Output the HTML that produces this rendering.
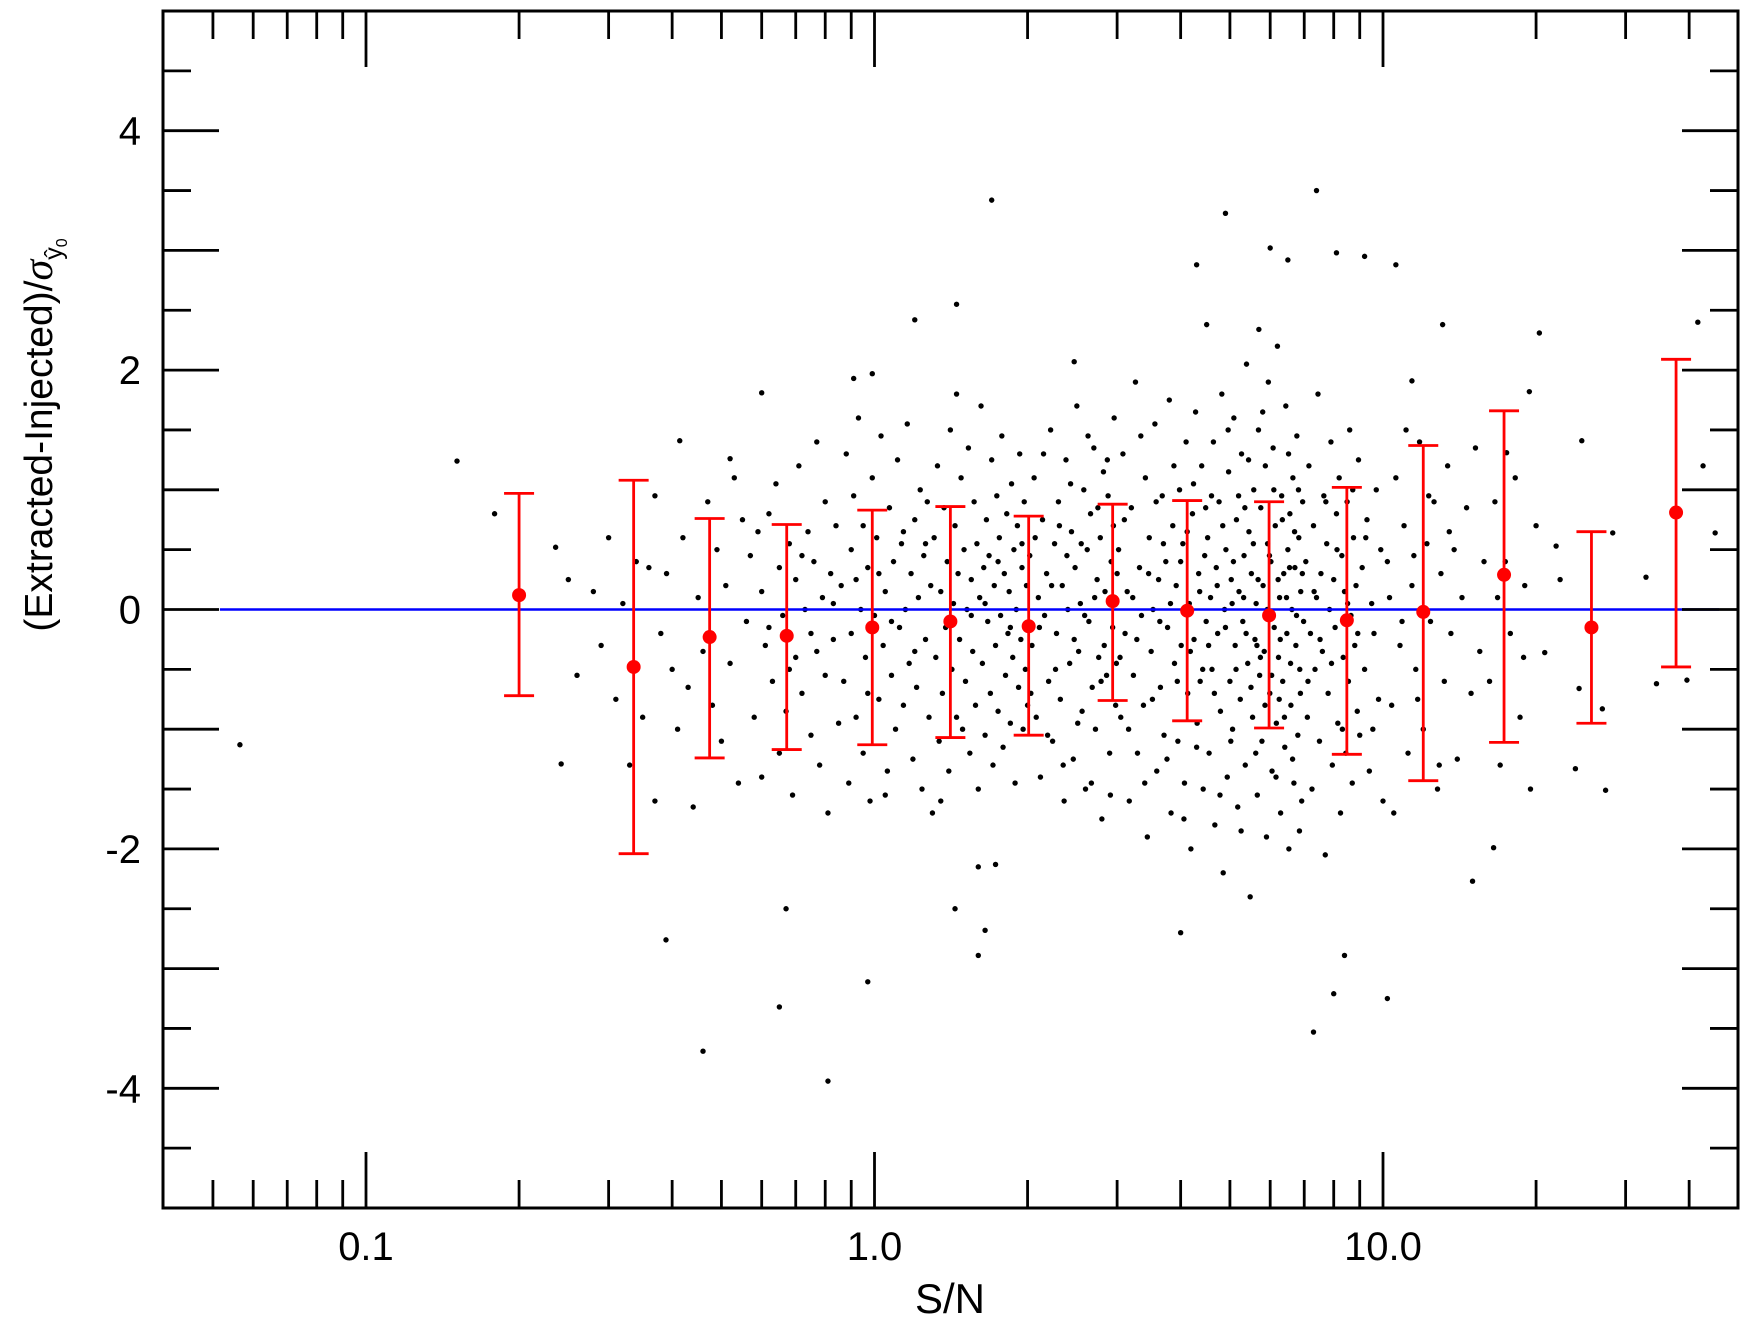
<!DOCTYPE html>
<html><head><meta charset="utf-8"><style>
html,body{margin:0;padding:0;background:#fff}
svg{display:block;font-family:"Liberation Sans",sans-serif}
</style></head><body>
<svg id="chart" width="1750" height="1331" viewBox="0 0 1750 1331" xmlns="http://www.w3.org/2000/svg">
<rect x="0" y="0" width="1750" height="1331" fill="#fff"/>
<g id="dots"></g>
<g id="zero"></g>
<g id="bins"></g>
<g id="axes"></g>
<text x="950" y="1313" font-size="42" text-anchor="middle">S/N</text>
<text transform="translate(52,435) rotate(-90)" font-size="39" text-anchor="middle">(Extracted-Injected)/<tspan font-family="Liberation Serif" font-style="italic" font-size="42">σ</tspan><tspan font-size="25" dy="10">ŷ</tspan><tspan font-size="16" dy="5">0</tspan></text>
</svg>
<script>
const xTickLabels = ["0.1","1.0","10.0"];
const xTickValues = [0.1,1,10];
const yTickValues = [-4,-2,0,2,4];
const binSN   = [0.2,0.336,0.474,0.672,0.99,1.41,2.01,2.94,4.12,5.97,8.49,12.0,17.3,25.7,37.7];
const binMean = [0.12,-0.48,-0.23,-0.22,-0.15,-0.10,-0.14,0.07,-0.01,-0.05,-0.09,-0.02,0.29,-0.15,0.81];
const binHigh = [0.97,1.08,0.76,0.71,0.83,0.86,0.78,0.88,0.91,0.90,1.02,1.37,1.66,0.65,2.09];
const binLow  = [-0.72,-2.04,-1.24,-1.17,-1.13,-1.07,-1.05,-0.76,-0.93,-0.99,-1.21,-1.43,-1.11,-0.95,-0.48];
const zeroLineRange = [0.0516,45.8];
const scatterPoints = [
[0.0565,-1.13],[0.151,1.24],[0.179,0.8],[0.236,0.52],[0.242,-1.29],[0.25,0.25],[0.389,-2.76],[0.414,1.41],[0.46,-3.69],[0.52,1.26],[0.6,1.81],[0.65,-3.32],[0.67,-2.5],[0.81,-3.94],[0.97,-3.11],[0.91,1.93],[0.99,1.97],[1.2,2.42],[1.45,2.55],[1.7,3.42],[1.44,-2.5],[1.6,-2.15],[1.6,-2.89],[1.65,-2.68],[1.73,-2.13],[2.47,2.07],[4.0,-2.7],[4.3,2.88],[4.9,3.31],[4.5,2.38],[5.7,2.34],[6.0,3.02],[6.5,2.92],[7.4,3.5],[7.3,-3.53],[8.1,2.98],[9.2,2.95],[8.4,-2.89],[8.0,-3.21],[10.2,-3.25],[10.6,2.88],[11.4,1.91],[13.1,2.38],[15,-2.27],[16.5,-1.99],[17.5,1.31],[20.3,2.31],[19.4,1.82],[20.8,-0.36],[21.9,0.53],[22.3,0.25],[23.9,-1.33],[24.6,1.41],[27,-0.83],[27.4,-1.51],[28.3,0.64],[32.9,0.27],[34.5,-0.62],[41.6,2.4],[42.6,1.2],[45,0.64],[39.6,-0.59],[24.3,-0.66],
[0.26,-0.55],[0.28,0.15],[0.29,-0.3],[0.3,0.6],[0.31,-0.75],[0.32,0.05],[0.33,-1.3],[0.34,0.4],[0.35,-0.9],[0.36,0.35],[0.37,-1.6],[0.37,0.95],[0.38,-0.2],[0.39,0.3],[0.4,-0.5],[0.41,-1.0],[0.42,0.6],[0.43,-0.65],[0.44,-1.65],[0.45,0.1],[0.46,-0.35],[0.47,0.9],[0.48,-0.8],[0.49,0.5],[0.5,-1.1],[0.51,0.2],[0.52,-0.45],[0.53,1.1],[0.54,-1.45],[0.55,0.75],
[0.56,-0.1],[0.57,0.45],[0.58,-0.9],[0.59,0.65],[0.6,-1.4],[0.6,0.15],[0.61,-0.3],[0.62,0.8],[0.63,-0.6],[0.64,1.05],[0.65,-1.2],[0.65,0.35],[0.66,-0.05],[0.67,-0.85],[0.68,0.55],[0.69,-1.55],[0.7,0.25],[0.7,-0.4],[0.71,1.2],[0.72,-0.7],[0.73,0.0],[0.74,0.65],[0.75,-1.05],[0.75,-0.2],[0.76,0.4],[0.77,1.4],[0.78,-1.3],[0.79,0.1],[0.8,-0.55],[0.8,0.9],[0.81,-1.7],[0.82,0.3],[0.83,-0.25],[0.84,0.7],[0.85,-0.95],[0.62,-0.15],[0.68,-0.5],[0.72,0.45],[0.77,-0.35],[0.83,0.05],
[0.86,0.2],[0.87,-0.6],[0.88,1.3],[0.89,-1.45],[0.9,0.5],[0.9,-0.2],[0.91,0.95],[0.92,-0.9],[0.93,1.6],[0.94,0.0],[0.95,-1.2],[0.95,0.7],[0.96,-0.4],[0.97,0.35],[0.98,-1.6],[0.99,1.1],[1.0,-0.05],[1.01,0.6],[1.02,-0.75],[1.03,1.45],[1.04,-0.3],[1.05,0.15],[1.06,-1.35],[1.07,0.85],[1.08,-0.55],[1.09,0.4],[1.1,-1.0],[1.11,1.25],[1.12,-0.15],[1.13,0.55],[1.14,-0.8],[1.15,0.0],[1.16,1.55],[1.17,-0.45],[1.18,0.3],[1.19,-1.25],[1.2,0.75],[1.21,-0.65],[1.22,0.1],[1.23,1.0],[1.24,-1.5],[1.25,0.45],[1.26,-0.25],[1.27,0.9],[1.28,-0.9],[1.29,0.2],[1.3,-1.7],[0.92,0.25],[0.97,-0.7],[1.02,0.3],[1.08,-0.1],[1.14,0.65],[1.2,-0.35],[1.26,0.55],[1.05,-1.55],
[1.31,0.6],[1.32,-0.4],[1.33,1.2],[1.34,-1.1],[1.35,0.15],[1.36,-0.7],[1.37,0.85],[1.38,-0.15],[1.39,0.4],[1.4,-1.35],[1.41,1.5],[1.42,-0.5],[1.43,0.05],[1.44,0.7],[1.45,-0.9],[1.46,0.3],[1.47,-0.25],[1.48,1.1],[1.49,-1.0],[1.5,0.5],[1.51,-0.6],[1.52,0.0],[1.53,1.35],[1.54,-1.2],[1.55,0.25],[1.56,-0.35],[1.57,0.9],[1.58,-0.8],[1.59,0.55],[1.6,-1.5],[1.61,0.1],[1.62,1.7],[1.63,-0.45],[1.64,0.35],[1.65,-1.05],[1.66,0.75],[1.67,-0.1],[1.68,0.45],[1.69,-0.7],[1.7,1.25],[1.71,-1.3],[1.72,0.2],[1.73,-0.3],[1.74,0.95],[1.75,-0.85],[1.76,0.6],[1.77,-0.05],[1.78,1.45],[1.79,-1.15],[1.8,0.3],[1.81,-0.55],[1.82,0.8],[1.83,-0.2],[1.84,0.15],[1.85,-0.95],[1.86,1.05],[1.87,-0.4],[1.88,0.5],[1.89,-1.45],[1.9,0.0],[1.91,0.7],[1.92,-0.65],[1.93,1.3],[1.94,-0.25],[1.95,0.35],[1.96,-1.0],[1.97,0.9],[1.98,-0.5],[1.99,0.2],[2.0,-0.8],[1.35,-1.6],[1.45,1.8],[1.55,-0.05],[1.65,0.05],[1.75,0.4],[1.85,-0.15],[1.95,0.55],
[2.02,0.45],[2.04,-0.3],[2.06,1.1],[2.08,-0.9],[2.1,0.1],[2.12,-1.4],[2.14,0.75],[2.16,-0.05],[2.18,0.3],[2.2,-0.6],[2.22,1.5],[2.24,-1.1],[2.26,0.55],[2.28,-0.2],[2.3,0.9],[2.32,-0.75],[2.34,0.2],[2.36,-1.6],[2.38,1.25],[2.4,0.0],[2.42,-0.45],[2.44,0.65],[2.46,-1.25],[2.48,0.35],[2.5,1.7],[2.52,-0.35],[2.54,0.05],[2.56,-0.85],[2.58,1.0],[2.6,-1.5],[2.62,0.5],[2.64,-0.1],[2.66,0.8],[2.68,-0.65],[2.7,1.35],[2.72,-1.0],[2.74,0.25],[2.76,-0.4],[2.78,0.6],[2.8,-1.75],[2.82,1.15],[2.84,0.15],[2.86,-0.55],[2.88,0.95],[2.9,-1.2],[2.92,0.4],[2.94,-0.15],[2.96,1.6],[2.98,-0.8],[3.0,0.3],
[2.03,-0.7],[2.07,0.6],[2.11,-0.15],[2.15,1.3],[2.19,-1.05],[2.23,0.2],[2.27,-0.5],[2.31,0.7],[2.35,-1.3],[2.39,0.45],[2.43,1.05],[2.47,-0.25],[2.51,-0.95],[2.55,0.55],[2.59,-0.05],[2.63,1.45],[2.67,-1.45],[2.71,0.1],[2.75,0.85],[2.79,-0.6],[2.83,-0.3],[2.87,1.25],[2.91,-1.55],[2.95,0.7],[2.99,-0.45],
[3.02,0.5],[3.05,-0.9],[3.08,1.3],[3.11,-0.2],[3.14,0.15],[3.17,-1.6],[3.2,0.85],[3.23,-0.55],[3.26,1.9],[3.29,-1.2],[3.32,0.35],[3.35,-0.05],[3.38,-0.8],[3.41,1.1],[3.44,-1.9],[3.47,0.6],[3.5,-0.35],[3.53,0.0],[3.56,1.55],[3.59,-1.35],[3.62,0.25],[3.65,-0.65],[3.68,0.95],[3.71,-1.05],[3.74,0.4],[3.77,-0.15],[3.8,1.75],[3.83,-1.7],[3.86,0.7],[3.89,-0.45],
[3.92,0.2],[3.95,-1.1],[3.98,1.0],[4.01,-0.3],[4.04,0.55],[4.07,-1.45],[4.1,1.4],[4.13,-0.7],[4.16,0.05],[4.19,-2.0],[4.22,0.8],[4.25,-0.25],[4.28,1.65],[4.31,-0.95],[4.34,0.3],[4.37,-0.6],[4.4,1.2],[4.43,-1.5],[4.46,0.45],[4.49,-0.1],
[3.04,-0.4],[3.1,0.75],[3.16,-1.0],[3.22,0.1],[3.28,-0.25],[3.34,1.45],[3.4,-1.45],[3.46,0.3],[3.52,-0.75],[3.58,0.9],[3.64,-0.1],[3.7,0.55],[3.76,-1.25],[3.82,0.05],[3.88,1.2],[3.94,-0.6],[4.0,0.4],[4.06,-1.75],[4.12,0.65],[4.18,-0.35],[4.24,1.05],[4.3,-1.15],[4.36,0.15],[4.42,-0.5],[4.48,0.85],
[4.52,0.6],[4.55,-1.2],[4.58,0.1],[4.61,-0.5],[4.64,1.4],[4.67,-1.8],[4.7,0.35],[4.73,-0.2],[4.76,0.9],[4.79,-0.85],[4.82,1.8],[4.85,-2.2],[4.88,0.0],[4.91,0.5],[4.94,-1.4],[4.97,1.15],[5.0,-0.6],[5.03,0.25],[5.06,-1.0],[5.09,1.6],[5.12,-0.3],[5.15,0.75],[5.18,-1.65],[5.21,0.15],[5.24,-0.75],[5.27,1.3],[5.3,-0.1],[5.33,0.45],[5.36,-1.3],[5.39,2.05],[5.42,-0.45],[5.45,0.65],[5.48,-2.4],[5.51,0.3],[5.54,-0.9],[5.57,1.0],[5.6,-0.25],[5.63,0.05],[5.66,-1.55],[5.69,1.5],[5.72,-0.55],[5.75,0.85],[5.78,-1.1],[5.81,0.2],[5.84,-0.35],[5.87,1.2],[5.9,-1.9],[5.93,0.55],[5.96,-0.05],[5.99,-0.7],
[6.02,0.4],[6.05,-1.35],[6.08,1.35],[6.11,-0.15],[6.14,0.7],[6.17,-0.95],[6.2,2.2],[6.23,-0.4],[6.26,0.1],[6.29,-1.7],[6.32,0.95],[6.35,-0.6],[6.38,0.3],[6.41,-1.15],[6.44,1.7],[6.47,-0.2],[6.5,0.5],[6.53,-2.0],[6.56,0.8],[6.59,-0.8],[6.62,0.0],[6.65,1.1],[6.68,-1.45],[6.71,0.35],[6.74,-0.3],[6.77,1.45],[6.8,-1.05],[6.83,0.6],[6.86,-0.5],[6.89,0.15],[6.92,-1.6],[6.95,0.9],[6.98,-0.1],
[4.54,-0.3],[4.6,0.95],[4.66,-0.7],[4.72,0.2],[4.78,-1.55],[4.84,0.7],[4.9,-0.15],[4.96,1.5],[5.02,-1.1],[5.08,0.4],[5.14,-0.5],[5.2,0.95],[5.26,-1.85],[5.32,0.1],[5.38,-0.2],[5.44,1.25],[5.5,-0.65],[5.56,0.55],[5.62,-1.2],[5.68,0.25],[5.74,-0.4],[5.8,1.65],[5.86,-0.8],[5.92,0.0],[5.98,0.45],[6.04,-0.55],[6.1,1.0],[6.16,-1.4],[6.22,0.25],[6.28,-0.25],[6.34,0.75],[6.4,-0.9],[6.46,0.1],[6.52,1.3],[6.58,-0.45],[6.64,-1.25],[6.7,0.65],[6.76,-0.05],[6.82,1.0],[6.88,-0.7],[6.94,0.3],[5.05,0.05],[5.35,0.85],[5.65,-0.3],[5.95,1.9],[6.25,-0.75],[6.55,0.35],[6.85,-1.85],
[7.05,0.4],[7.1,-0.9],[7.15,1.2],[7.2,-0.2],[7.25,-1.5],[7.3,0.7],[7.35,-0.5],[7.4,0.1],[7.45,1.8],[7.5,-1.1],[7.55,0.3],[7.6,-0.35],[7.65,0.95],[7.7,-2.05],[7.75,0.55],[7.8,-0.7],[7.85,0.0],[7.9,1.4],[7.95,-1.3],[8.0,0.25],[8.05,-0.15],[8.1,0.8],[8.15,-0.95],[8.2,1.1],[8.25,-1.7],[8.3,0.45],[8.35,-0.4],[8.4,0.15],[8.45,-1.2],[8.5,0.9],[8.55,-0.6],[8.6,1.5],[8.65,-0.05],[8.7,-1.45],[8.75,0.6],[8.8,-0.3],[8.85,0.2],[8.9,-0.85],[8.95,1.25],[9.0,-1.05],[9.1,0.35],[9.2,-0.5],[9.3,0.75],[9.4,-1.35],[9.5,0.05],[9.6,-0.2],[9.7,1.0],[9.8,-0.75],[9.9,0.5],[10.0,-1.6],[7.12,-0.6],[7.32,0.15],[7.52,-0.25],[7.72,0.9],[7.92,-0.45],[8.12,0.5],[8.32,-1.0],[8.52,0.05],[8.72,1.0],[8.92,-0.2],[9.25,0.6],[9.55,-1.0],
[10.2,0.4],[10.4,-0.8],[10.6,1.1],[10.8,-0.3],[11.0,0.7],[11.2,-1.2],[11.4,0.2],[11.6,-0.5],[11.8,1.4],[12.0,-1.0],[12.2,0.55],[12.4,-0.1],[12.6,0.9],[12.8,-1.5],[13.0,0.3],[13.2,-0.6],[13.4,1.2],[13.6,-0.2],[13.8,0.5],[14.0,-1.25],[14.3,0.1],[14.6,0.85],[14.9,-0.7],[15.2,1.35],[15.5,-0.35],[15.8,0.4],[10.5,-1.7],[11.1,1.5],[11.7,-0.75],[12.3,0.95],[12.9,-1.3],[13.5,0.65],[10.3,0.1],[10.9,-0.1],[11.5,0.45],
[16.2,-0.6],[16.6,0.9],[17.0,-1.3],[17.4,0.4],[17.8,-0.2],[18.2,1.1],[18.6,-0.9],[19.0,0.2],[19.5,-1.5],[20.0,0.7],[16.8,0.1],[18.9,-0.4]
];

const NS = "http://www.w3.org/2000/svg";
const L = 163, R = 1738, T = 11, B = 1208;
const X0 = 366, DEC = 508.5;
const xScale = v => X0 + (Math.log10(v) + 1) * DEC;
const yScale = v => 609.5 - v * (B - T) / 10;
function mk(tag, attrs, parent) {
  const el = document.createElementNS(NS, tag);
  for (const k in attrs) el.setAttribute(k, attrs[k]);
  parent.appendChild(el);
  return el;
}
const dots = document.getElementById('dots');
scatterPoints.forEach(p => {
  const c = mk('circle', {cx: xScale(p[0]), cy: yScale(p[1]), r: 2.7, fill: '#000'}, dots);
  
  
});
const zg = document.getElementById('zero');
const zl = mk('line', {x1: xScale(zeroLineRange[0]), x2: xScale(zeroLineRange[1]), y1: yScale(0), y2: yScale(0), stroke: '#0000ff', 'stroke-width': 2.5}, zg);



const bins = document.getElementById('bins');
binSN.forEach((s, i) => {
  const g = mk('g', {}, bins);
  
  
  const x = xScale(s), yh = yScale(binHigh[i]), yl = yScale(binLow[i]);
  const st = {stroke: '#ff0000', 'stroke-width': 2.8};
  mk('line', Object.assign({x1: x, x2: x, y1: yh, y2: yl}, st), g);
  mk('line', Object.assign({x1: x - 15, x2: x + 15, y1: yh, y2: yh}, st), g);
  mk('line', Object.assign({x1: x - 15, x2: x + 15, y1: yl, y2: yl}, st), g);
  const c = mk('circle', {cx: x, cy: yScale(binMean[i]), r: 7, fill: '#ff0000'}, g);
  
  
});

const ax = document.getElementById('axes');
const tk = {stroke: '#000', 'stroke-width': 2.8};
const frame = mk('rect', {x: L, y: T, width: R - L, height: B - T, fill: 'none', stroke: '#000', 'stroke-width': 3}, ax);


for (let d = -2; d <= 1; d++) {
  for (let m = 1; m <= 9; m++) {
    const v = m * Math.pow(10, d);
    const px = xScale(v);
    if (px <= L + 1 || px >= R - 1) continue;
    const len = m === 1 ? 56 : 28;
    mk('line', Object.assign({x1: px, x2: px, y1: B, y2: B - len}, tk), ax);
    mk('line', Object.assign({x1: px, x2: px, y1: T, y2: T + len}, tk), ax);
  }
}
xTickValues.forEach((v, i) => {
  const t = mk('text', {x: xScale(v), y: 1260, 'font-size': 40, 'text-anchor': 'middle'}, ax);
  t.textContent = xTickLabels[i];
  
  
});
for (let k = -9; k <= 9; k++) {
  const v = k / 2, py = yScale(v);
  const len = (k % 2 === 0) ? 56 : 28;
  mk('line', Object.assign({x1: L, x2: L + len, y1: py, y2: py}, tk), ax);
  mk('line', Object.assign({x1: R, x2: R - len, y1: py, y2: py}, tk), ax);
}
yTickValues.forEach(v => {
  const t = mk('text', {x: 141, y: yScale(v) + 14, 'font-size': 40, 'text-anchor': 'end'}, ax);
  t.textContent = String(v);
  
  
});
</script>
</body></html>
